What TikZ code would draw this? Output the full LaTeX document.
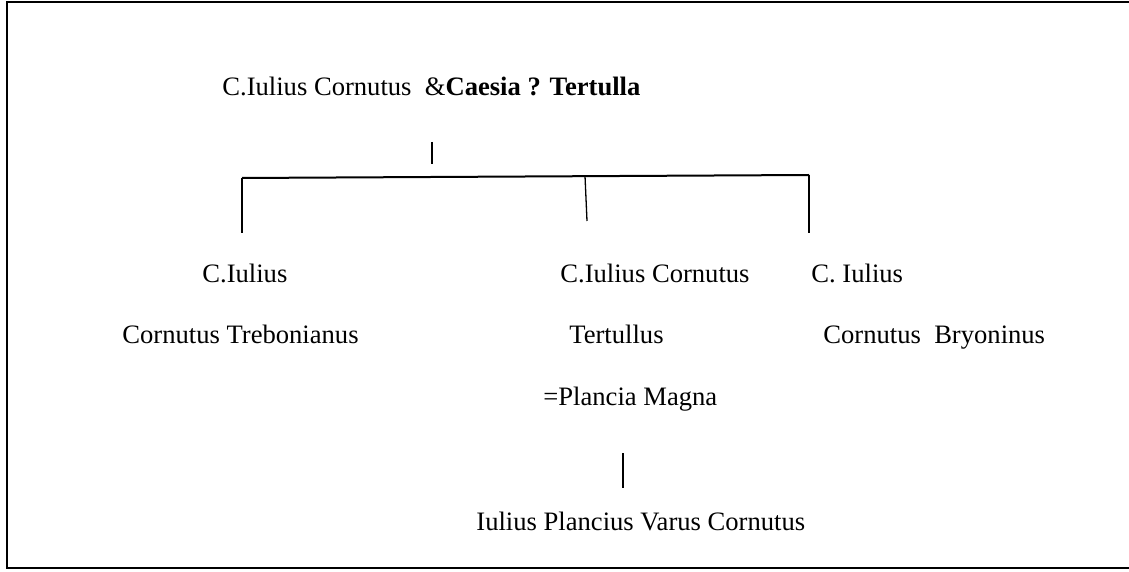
\documentclass[tikz,border=0pt]{standalone}
\usepackage{fontspec}
\setmainfont{Liberation Serif}
\usepackage{tikz}
\usetikzlibrary{positioning,calc}

\tikzset{
  person/.style={inner sep=0pt, anchor=base west, font=\fontsize{13.3}{16}\selectfont},
  stem/.style={line width=0.65pt},
  bar/.style={line width=1pt}
}

\begin{document}
\begin{tikzpicture}[x=0.5pt, y=-0.5pt]
            \useasboundingbox (0,0) rectangle (1129,572);
            \draw[line width=1.1pt] (1129,2) -- (7,2) -- (7,568) -- (1129,568);

            \node[person] (parents) at (222,96) {C.Iulius Cornutus\ \ \&\textbf{Caesia ? Tertulla}};
            \node[person] (treb1) at (202,283) {C.Iulius};
            \node[person] (treb2) at (122,343) {Cornutus Trebonianus};
            \node[person] (tert1) at (560,283) {C.Iulius Cornutus};
            \node[person] (tert2) at (569,343) {Tertullus};
            \node[person] (plancia) at (543,405) {=Plancia Magna};
            \node[person] (bryo1) at (811,283) {C. Iulius};
            \node[person] (bryo2) at (823,343) {Cornutus\ \ Bryoninus};
            \node[person] (varus) at (476,530) {Iulius Plancius Varus Cornutus};

            \coordinate (tick top) at (432,142);
            \coordinate (tick bot) at (432,164);
            \coordinate (bar left) at (242,178);
            \coordinate (bar mid) at (585,176);
            \coordinate (bar right) at (809,175);
            \coordinate (leg left) at (242,233);
            \coordinate (leg mid) at (587,221);
            \coordinate (leg right) at (809,233);
            \coordinate (son top) at (623,453);
            \coordinate (son bot) at (623,488);

            \draw[stem] (tick top) -- (tick bot);
            \draw[bar] (bar left) -- (bar right);
            \draw[stem] (bar left) -- (leg left);
            \draw[stem] (bar mid) -- (leg mid);
            \draw[stem] (bar right) -- (leg right);
            \draw[stem] (son top) -- (son bot);
        \end{tikzpicture}
\end{document}
